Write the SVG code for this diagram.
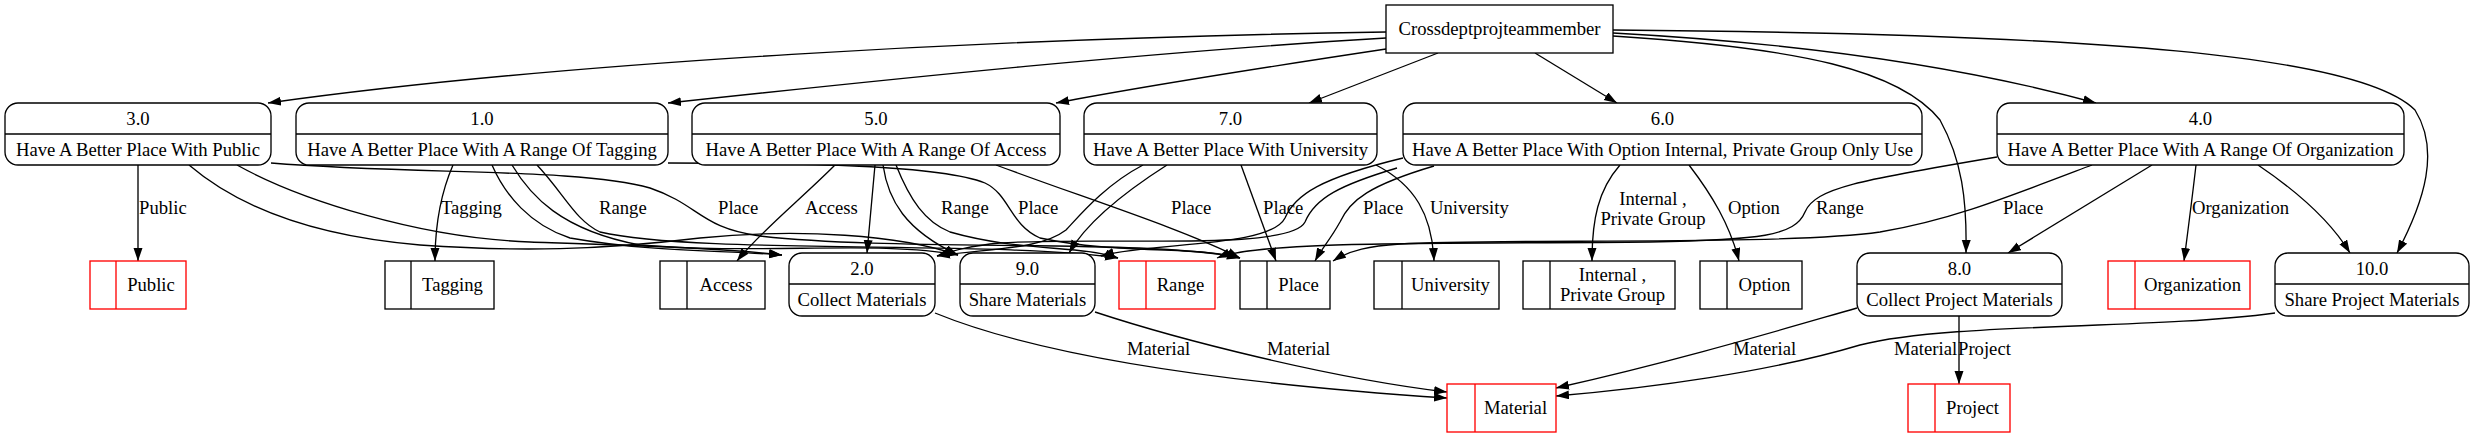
<svg xmlns="http://www.w3.org/2000/svg" width="2475" height="439" viewBox="0 0 2475 439">
<defs>
<marker id="a" markerUnits="userSpaceOnUse" markerWidth="14" markerHeight="10" refX="13" refY="4.5" orient="auto">
<path d="M0,0 L13,4.5 L0,9 z" fill="#000"/>
</marker>
<style>
text{font-family:"Liberation Serif","Times New Roman",serif;font-size:18.67px;fill:#000}
.c{text-anchor:middle}
.p rect,.s rect,.x rect{fill:#fff;stroke:#000;stroke-width:1.33}
.p line,.s line{stroke:#000;stroke-width:1.33}
.s.r rect,.s.r line{stroke:#ff0000}
#edges path{fill:none;stroke:#000;stroke-width:1.33;marker-end:url(#a)}
</style>
</defs>
<rect width="2475" height="439" fill="#fff"/>

<g id="edges">
<path d="M1386,32 C1000,38 560,62 268,103"/>
<path d="M1386,38 C1150,52 900,78 668,103"/>
<path d="M1386,49 C1280,65 1150,85 1056,103"/>
<path d="M1438,53 L1309,103"/>
<path d="M1535,53 L1617,103"/>
<path d="M1613,33 C1780,42 1950,63 2096,103"/>
<path d="M1613,36 C1800,48 1900,70 1940,120 C1962,160 1967,200 1966,253"/>
<path d="M1613,30 C2100,34 2360,55 2415,110 C2440,150 2425,200 2397,253"/>

<path d="M138,165 L138,261"/>
<path d="M189,165 C230,200 300,235 420,245 C520,252 600,250 700,238 C800,228 900,235 958,255"/>
<path d="M237,165 C300,200 420,238 530,242 C650,246 720,248 782,255"/>
<path d="M271,163 C420,175 580,168 650,188 C700,205 700,228 760,236 C900,252 1150,238 1240,258"/>

<path d="M453,165 C440,195 435,225 435,261"/>
<path d="M492,165 C505,195 530,225 570,238 C650,252 720,250 782,255"/>
<path d="M512,165 C530,195 560,230 640,245 C760,255 880,240 958,255"/>
<path d="M537,165 C565,195 575,220 600,232 C700,255 1000,240 1118,258"/>
<path d="M668,163 C800,163 940,165 985,183 C1010,195 1010,225 1040,238 C1120,255 1190,245 1240,258"/>

<path d="M835,165 C800,200 760,232 737,261"/>
<path d="M875,165 L867,253"/>
<path d="M883,165 C888,200 905,230 958,255"/>
<path d="M896,165 C910,200 925,222 950,232 C1020,252 1080,245 1118,258"/>
<path d="M996,165 C1090,200 1180,228 1240,258"/>

<path d="M1143,165 C1105,185 1080,215 1066,230 C1040,250 990,248 937,256"/>
<path d="M1167,165 C1120,195 1085,225 1069,253"/>
<path d="M1241,165 L1276,261"/>
<path d="M1376,165 C1415,185 1432,215 1434,261"/>

<path d="M1403,158 C1320,178 1295,195 1285,218 C1270,248 1150,242 1101,256"/>
<path d="M1397,168 C1340,185 1315,198 1305,222 C1290,252 1100,236 1000,243 C970,246 955,250 937,256"/>
<path d="M1434,166 C1370,185 1350,200 1340,222 C1330,240 1322,248 1315,261"/>
<path d="M1620,165 C1598,190 1592,220 1592,261"/>
<path d="M1689,165 C1712,195 1730,225 1739,261"/>

<path d="M1997,157 C1860,180 1815,188 1805,212 C1795,236 1760,240 1650,242 C1450,244 1260,240 1217,258"/>
<path d="M2092,165 C2000,200 1950,220 1880,232 C1780,246 1500,238 1400,244 C1370,246 1350,250 1333,261"/>
<path d="M2152,165 L2008,253"/>
<path d="M2196,165 C2192,200 2188,230 2184,261"/>
<path d="M2258,165 C2295,190 2330,220 2350,253"/>

<path d="M935,313 C1050,360 1250,385 1447,398"/>
<path d="M1095,312 C1180,340 1330,378 1447,392"/>
<path d="M1857,308 C1780,330 1680,360 1556,388"/>
<path d="M2275,313 C2150,330 1950,322 1860,345 C1770,372 1650,388 1556,396"/>
<path d="M1959,316 L1959,384"/>

<g id="edge-labels">
<text x="139" y="214">Public</text>
<text x="441" y="214">Tagging</text>
<text x="599" y="214">Range</text>
<text x="718" y="214">Place</text>
<text x="805" y="214">Access</text>
<text x="941" y="214">Range</text>
<text x="1018" y="214">Place</text>
<text x="1171" y="214">Place</text>
<text x="1263" y="214">Place</text>
<text x="1363" y="214">Place</text>
<text x="1430" y="214">University</text>
<text class="c" x="1653" y="205">Internal ,</text>
<text class="c" x="1653" y="225">Private Group</text>
<text x="1728" y="214">Option</text>
<text x="1816" y="214">Range</text>
<text x="2003" y="214">Place</text>
<text x="2192" y="214">Organization</text>
<text x="1127" y="355">Material</text>
<text x="1267" y="355">Material</text>
<text x="1733" y="355">Material</text>
<text x="1894" y="355">Material</text>
<text x="1958" y="355">Project</text>
</g>
</g>

<g id="crossdept" class="x"><rect x="1386" y="5" width="227" height="48"/><text class="c" x="1499.5" y="35">Crossdeptprojteammember</text></g>

<g id="p3" class="p"><rect x="5" y="103" width="266" height="62" rx="13"/><line x1="5" y1="134" x2="271" y2="134"/><text class="c" x="138" y="124.5">3.0</text><text class="c" x="138" y="155.5">Have A Better Place With Public</text></g>
<g id="p1" class="p"><rect x="296" y="103" width="372" height="62" rx="13"/><line x1="296" y1="134" x2="668" y2="134"/><text class="c" x="482" y="124.5">1.0</text><text class="c" x="482" y="155.5">Have A Better Place With A Range Of Tagging</text></g>
<g id="p5" class="p"><rect x="692" y="103" width="368" height="62" rx="13"/><line x1="692" y1="134" x2="1060" y2="134"/><text class="c" x="876" y="124.5">5.0</text><text class="c" x="876" y="155.5">Have A Better Place With A Range Of Access</text></g>
<g id="p7" class="p"><rect x="1084" y="103" width="293" height="62" rx="13"/><line x1="1084" y1="134" x2="1377" y2="134"/><text class="c" x="1230.5" y="124.5">7.0</text><text class="c" x="1230.5" y="155.5">Have A Better Place With University</text></g>
<g id="p6" class="p"><rect x="1403" y="103" width="519" height="62" rx="13"/><line x1="1403" y1="134" x2="1922" y2="134"/><text class="c" x="1662.5" y="124.5">6.0</text><text class="c" x="1662.5" y="155.5">Have A Better Place With Option Internal, Private Group Only Use</text></g>
<g id="p4" class="p"><rect x="1997" y="103" width="407" height="62" rx="13"/><line x1="1997" y1="134" x2="2404" y2="134"/><text class="c" x="2200.5" y="124.5">4.0</text><text class="c" x="2200.5" y="155.5">Have A Better Place With A Range Of Organization</text></g>

<g id="p2" class="p"><rect x="789" y="253" width="146" height="63" rx="13"/><line x1="789" y1="284" x2="935" y2="284"/><text class="c" x="862" y="274.5">2.0</text><text class="c" x="862" y="306">Collect Materials</text></g>
<g id="p9" class="p"><rect x="960" y="253" width="135" height="63" rx="13"/><line x1="960" y1="284" x2="1095" y2="284"/><text class="c" x="1027.5" y="274.5">9.0</text><text class="c" x="1027.5" y="306">Share Materials</text></g>
<g id="p8" class="p"><rect x="1857" y="253" width="205" height="63" rx="13"/><line x1="1857" y1="284" x2="2062" y2="284"/><text class="c" x="1959.5" y="274.5">8.0</text><text class="c" x="1959.5" y="306">Collect Project Materials</text></g>
<g id="p10" class="p"><rect x="2275" y="253" width="194" height="63" rx="13"/><line x1="2275" y1="284" x2="2469" y2="284"/><text class="c" x="2372" y="274.5">10.0</text><text class="c" x="2372" y="306">Share Project Materials</text></g>

<g id="s-public" class="s r"><rect x="90" y="261" width="96" height="48"/><line x1="116" y1="261" x2="116" y2="309"/><text class="c" x="151" y="291">Public</text></g>
<g id="s-tagging" class="s"><rect x="385" y="261" width="109" height="48"/><line x1="411" y1="261" x2="411" y2="309"/><text class="c" x="452.5" y="291">Tagging</text></g>
<g id="s-access" class="s"><rect x="660" y="261" width="105" height="48"/><line x1="687" y1="261" x2="687" y2="309"/><text class="c" x="726" y="291">Access</text></g>
<g id="s-range" class="s r"><rect x="1119" y="261" width="96" height="48"/><line x1="1146" y1="261" x2="1146" y2="309"/><text class="c" x="1180.5" y="291">Range</text></g>
<g id="s-place" class="s"><rect x="1240" y="261" width="90" height="48"/><line x1="1267" y1="261" x2="1267" y2="309"/><text class="c" x="1298.5" y="291">Place</text></g>
<g id="s-university" class="s"><rect x="1374" y="261" width="125" height="48"/><line x1="1402" y1="261" x2="1402" y2="309"/><text class="c" x="1450.5" y="291">University</text></g>
<g id="s-internal" class="s"><rect x="1523" y="261" width="152" height="48"/><line x1="1550" y1="261" x2="1550" y2="309"/><text class="c" x="1612.5" y="281">Internal ,</text><text class="c" x="1612.5" y="301">Private Group</text></g>
<g id="s-option" class="s"><rect x="1700" y="261" width="102" height="48"/><line x1="1727" y1="261" x2="1727" y2="309"/><text class="c" x="1764.5" y="291">Option</text></g>
<g id="s-organization" class="s r"><rect x="2108" y="261" width="142" height="48"/><line x1="2135" y1="261" x2="2135" y2="309"/><text class="c" x="2192.5" y="291">Organization</text></g>
<g id="s-material" class="s r"><rect x="1447" y="384" width="109" height="48"/><line x1="1475" y1="384" x2="1475" y2="432"/><text class="c" x="1515.5" y="414">Material</text></g>
<g id="s-project" class="s r"><rect x="1908" y="384" width="102" height="48"/><line x1="1935" y1="384" x2="1935" y2="432"/><text class="c" x="1972.5" y="414">Project</text></g>
</svg>
